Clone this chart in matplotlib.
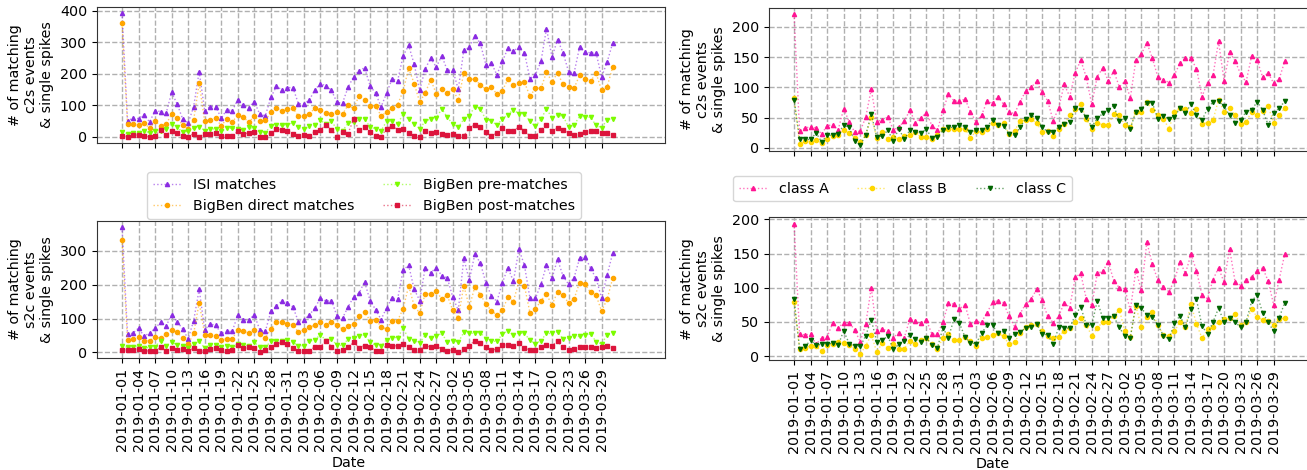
import numpy as np
import matplotlib
matplotlib.use("Agg")
import matplotlib.pyplot as plt

plt.rcParams['font.size'] = 10.3

# daily dates, 2019-01-01 .. 2019-03-31
dates = np.arange('2019-01-01', '2019-04-01', dtype='datetime64[D]')
tick_dates = dates[::3]
tick_labels = [str(d) for d in tick_dates]

# ---- c2s (top left)
isi_c2s = [392, 51, 59, 58, 70, 47, 83, 80, 75, 141, 104, 57, 44, 96, 207, 83, 96, 96, 59, 86,
           83, 118, 100, 93, 112, 71, 67, 125, 160, 149, 156, 156, 105,
           105, 117, 150, 168, 162, 147, 109, 107, 157, 190, 210, 219, 162, 138, 95, 139, 184, 178, 257, 290,
           230, 148, 215, 250, 221, 257, 211, 211, 151, 274, 284, 321, 296, 229, 234, 197, 239, 281, 272, 284,
           267, 184, 197, 239, 343, 253, 308, 267, 207, 202, 284, 270, 266, 266, 190, 237, 297]
direct_c2s = [361, 41, 40, 38, 43, 28, 49, 35, 41, 71, 59, 38, 24, 54, 170, 49, 52, 59, 35, 57,
              47, 69, 62, 47, 65, 49, 52, 78, 91, 83, 89, 91, 65,
              67, 73, 91, 85, 77, 72, 80, 72, 100, 90, 130, 117, 99, 99, 66, 79, 91, 102, 146, 217,
              169, 110, 139, 181, 137, 153, 139, 151, 116, 202, 183, 182, 165, 151, 159, 135, 146, 183, 163, 172,
              173, 129, 154, 154, 205, 175, 202, 167, 159, 154, 195, 184, 176, 202, 147, 159, 220]
pre_c2s = [14, 10, 12, 12, 20, 12, 20, 20, 26, 40, 30, 15, 17, 28, 32, 20, 25, 25, 18, 27,
           27, 25, 22, 30, 27, 15, 13, 35, 37, 37, 37, 45, 30,
           24, 33, 36, 52, 41, 49, 24, 19, 43, 46, 57, 58, 30, 26, 20, 49, 49, 40, 73, 56,
           41, 26, 49, 57, 59, 89, 62, 41, 30, 56, 67, 96, 89, 54, 51, 37, 57, 70, 86, 73,
           73, 49, 33, 56, 89, 60, 68, 66, 31, 37, 65, 63, 62, 36, 29, 54, 58]
post_c2s = [4, 0, 5, 6, 2, 0, 3, 22, 6, 19, 12, 4, 1, 10, 0, 10, 10, 12, 3, 3,
            3, 17, 10, 12, 15, 1, 1, 12, 25, 22, 20, 10, 3,
            6, 4, 16, 23, 37, 23, 1, 14, 10, 56, 21, 32, 14, 2, 1, 26, 35, 22, 24, 12,
            4, 1, 19, 11, 14, 10, 7, 10, 3, 3, 28, 38, 30, 14, 4, 11, 28, 17, 19, 32,
            19, 3, 3, 22, 37, 17, 28, 22, 11, 5, 10, 16, 17, 17, 11, 12, 6]

# ---- s2c (bottom left)
isi_s2c = [369, 54, 57, 72, 48, 57, 71, 89, 78, 111, 91, 69, 40, 94, 186, 67, 84, 80, 56, 62,
           62, 111, 96, 96, 111, 66, 62, 121, 136, 153, 147, 134, 91,
           97, 111, 131, 161, 151, 153, 107, 101, 134, 163, 175, 208, 153, 126, 97, 132, 160, 158, 243, 257,
           186, 153, 250, 235, 250, 226, 220, 163, 124, 277, 213, 289, 264, 205, 167, 150, 205, 250, 210, 304,
           257, 160, 160, 201, 257, 218, 275, 225, 201, 220, 277, 282, 248, 218, 160, 228, 292]
direct_s2c = [332, 37, 40, 45, 35, 35, 45, 42, 54, 67, 59, 42, 25, 56, 147, 52, 52, 48, 38, 40,
              40, 66, 62, 57, 66, 54, 42, 69, 89, 91, 84, 82, 59,
              67, 74, 81, 89, 81, 91, 81, 69, 79, 84, 106, 119, 94, 97, 76, 69, 94, 94, 129, 196,
              137, 116, 173, 173, 180, 158, 168, 124, 102, 197, 134, 193, 170, 144, 122, 111, 124, 163, 150, 210,
              196, 117, 127, 153, 171, 140, 178, 168, 146, 157, 206, 201, 177, 168, 122, 157, 218]
pre_s2c = [20, 15, 15, 20, 13, 15, 17, 35, 20, 30, 23, 18, 13, 25, 33, 13, 23, 23, 17, 20,
           15, 25, 23, 20, 30, 15, 15, 33, 35, 35, 37, 30, 20,
           20, 33, 38, 52, 35, 40, 21, 21, 39, 42, 47, 52, 30, 21, 18, 38, 44, 44, 71, 41,
           35, 28, 52, 42, 47, 57, 30, 35, 30, 59, 56, 57, 58, 41, 33, 33, 54, 64, 51, 57,
           56, 36, 25, 35, 56, 56, 61, 40, 42, 47, 47, 52, 54, 32, 25, 52, 56]
post_s2c = [7, 7, 7, 10, 3, 5, 5, 15, 5, 12, 7, 10, 3, 13, 5, 3, 10, 13, 7, 5,
            7, 22, 12, 15, 13, 2, 7, 15, 25, 30, 25, 13, 5,
            5, 5, 17, 17, 35, 17, 5, 7, 15, 30, 14, 20, 17, 4, 3, 22, 20, 19, 25, 15,
            8, 8, 19, 17, 19, 10, 5, 8, 2, 10, 20, 35, 29, 17, 7, 10, 21, 22, 19, 28,
            12, 7, 7, 15, 22, 20, 33, 15, 7, 9, 15, 17, 15, 12, 15, 19, 13]

# ---- classes c2s (top right)
a_c2s = [221, 28, 33, 35, 33, 23, 37, 38, 30, 65, 43, 26, 28, 51, 97, 43, 47, 51, 30, 34,
         45, 62, 42, 50, 58, 37, 29, 62, 89, 78, 77, 81, 60, 43, 54, 77,
         74, 85, 72, 59, 57, 76, 94, 100, 110, 92, 78, 45, 66, 105, 85, 124, 145, 117, 72, 118,
         132, 111, 127, 101, 110, 83, 145, 155, 174, 148, 117, 113, 108, 121, 140, 148, 148, 131,
         85, 108, 120, 176, 111, 158, 144, 122, 109, 152, 145, 117, 124, 107, 114, 143]
b_c2s = [82, 7, 11, 10, 13, 8, 15, 19, 21, 30, 24, 17, 10, 21, 51, 17, 27, 15, 18, 15,
         20, 21, 27, 18, 18, 15, 21, 32, 32, 31, 32, 32, 17, 28, 26, 31,
         41, 38, 41, 23, 28, 45, 46, 48, 41, 27, 28, 20, 31, 39, 54, 64, 73, 48, 32, 41,
         38, 38, 56, 54, 38, 34, 60, 60, 76, 62, 54, 48, 32, 59, 66, 64, 57, 65, 39, 42,
         46, 80, 60, 66, 54, 39, 43, 60, 54, 61, 69, 42, 54, 66]
c_c2s = [80, 15, 14, 14, 25, 10, 21, 21, 23, 38, 34, 11, 5, 21, 56, 18, 20, 29, 12, 32,
         14, 30, 26, 25, 31, 16, 18, 29, 34, 34, 38, 34, 26, 29, 29, 35,
         47, 38, 37, 23, 21, 34, 48, 54, 49, 35, 26, 26, 35, 39, 43, 66, 63, 51, 35, 49,
         57, 63, 70, 44, 49, 32, 60, 65, 74, 74, 48, 52, 48, 51, 66, 57, 73, 54, 46, 65,
         76, 77, 69, 54, 42, 46, 60, 63, 76, 63, 38, 57, 66, 77]

# ---- classes s2c (bottom right)
a_s2c = [194, 32, 31, 32, 17, 27, 28, 48, 41, 49, 49, 38, 21, 47, 100, 36, 40, 36, 27, 34,
         27, 54, 51, 48, 53, 32, 32, 50, 77, 76, 69, 75, 47, 51, 50, 63,
         79, 81, 78, 58, 43, 62, 76, 83, 98, 82, 58, 49, 58, 78, 71, 115, 121, 84, 74, 121,
         124, 138, 110, 100, 98, 67, 126, 96, 167, 134, 111, 101, 94, 111, 138, 121, 149, 125,
         89, 84, 112, 129, 108, 157, 109, 103, 111, 116, 125, 129, 110, 75, 112, 149]
b_s2c = [79, 11, 12, 15, 14, 7, 16, 17, 21, 19, 16, 11, 3, 15, 31, 6, 19, 12, 17, 11,
         11, 22, 18, 24, 26, 17, 11, 26, 32, 24, 23, 28, 22, 14, 26, 28,
         31, 33, 29, 17, 20, 34, 42, 45, 47, 37, 30, 26, 28, 37, 41, 50, 56, 45, 30, 41,
         50, 50, 58, 68, 36, 28, 73, 43, 57, 64, 45, 31, 30, 36, 50, 42, 76, 47, 26, 39,
         43, 50, 54, 56, 61, 46, 50, 69, 57, 53, 51, 46, 54, 56]
c_s2c = [83, 11, 14, 23, 16, 17, 17, 19, 16, 37, 18, 14, 14, 30, 53, 21, 23, 29, 10, 17,
         22, 31, 25, 21, 27, 16, 12, 41, 27, 54, 48, 28, 19, 18, 33, 45,
         45, 33, 36, 27, 32, 35, 41, 42, 47, 32, 31, 17, 42, 41, 41, 60, 72, 46, 45, 81,
         55, 56, 58, 42, 29, 27, 75, 70, 60, 57, 45, 30, 25, 48, 59, 42, 69, 83, 44, 32,
         50, 70, 50, 56, 50, 42, 50, 80, 90, 63, 50, 36, 56, 78]

left_names = ['ISI matches', 'BigBen direct matches', 'BigBen pre-matches', 'BigBen post-matches']
left_colors = ['#8a2be2', '#ffa500', '#7cfc00', '#dc143c']
left_markers = ['^', 'o', 'v', 's']
right_names = ['class A', 'class B', 'class C']
right_colors = ['#ff1493', '#ffd700', '#006400']
right_markers = ['^', 'o', 'v']


def draw(ax, series, names, colors, markers, ystep):
    for vals, name, c, m in zip(series, names, colors, markers):
        rgba = matplotlib.colors.to_rgba(c, 0.6)
        ax.plot(dates, vals, linestyle=':', linewidth=1, color=rgba, marker=m,
                markersize=3, markerfacecolor=c, markeredgecolor=c, label=name)
    ax.set_xticks(tick_dates)
    ax.set_xlim(dates[0] - np.timedelta64(109, 'h'), dates[0] + np.timedelta64(2364, 'h'))
    ax.yaxis.set_major_locator(matplotlib.ticker.MultipleLocator(ystep))
    ax.grid(True, linestyle='--', color='#b0b0b0', linewidth=1)
    for s in ax.spines.values():
        s.set_color('#333333')


fig = plt.figure(figsize=(13.07, 4.7), dpi=100)
ax_tl = fig.add_axes([0.0742, 0.6957, 0.4346, 0.2894])
ax_bl = fig.add_axes([0.0742, 0.2383, 0.4346, 0.2915])
ax_tr = fig.add_axes([0.5884, 0.6777, 0.4346, 0.3060])
ax_br = fig.add_axes([0.5884, 0.2330, 0.4346, 0.3053])

draw(ax_tl, [isi_c2s, direct_c2s, pre_c2s, post_c2s], left_names, left_colors, left_markers, 100)
draw(ax_bl, [isi_s2c, direct_s2c, pre_s2c, post_s2c], left_names, left_colors, left_markers, 100)
draw(ax_tr, [a_c2s, b_c2s, c_c2s], right_names, right_colors, right_markers, 50)
draw(ax_br, [a_s2c, b_s2c, c_s2c], right_names, right_colors, right_markers, 50)

for ax in (ax_tl, ax_tr):
    ax.set_xticklabels([])
    ax.set_ylabel('# of matching\nc2s events\n& single spikes')
for ax in (ax_bl, ax_br):
    ax.set_xticklabels(tick_labels, rotation=90)
    ax.set_xlabel('Date')
    ax.set_ylabel('# of matching\ns2c events\n& single spikes')
# "Date" sits under the tick labels, not the centre of the (cropped) axes
ax_bl.xaxis.set_label_coords(0.444, -0.715)
ax_br.xaxis.set_label_coords(0.393, -0.67)

h, l = ax_tl.get_legend_handles_labels()
fig.legend(h, l, loc='upper left', bbox_to_anchor=(147 / 1307, 1 - 172 / 470),
           ncol=2, borderaxespad=0)
h, l = ax_tr.get_legend_handles_labels()
fig.legend(h, l, loc='upper left', bbox_to_anchor=(733 / 1307, 1 - 176 / 470),
           ncol=3, borderaxespad=0)

fig.savefig('out.png', dpi=100)
